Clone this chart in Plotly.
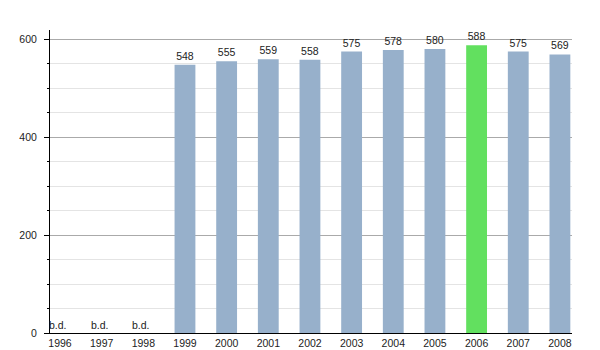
import plotly.graph_objects as go

# Population by year; None marks years without data ("b.d.")
years = ["1996", "1997", "1998", "1999", "2000", "2001", "2002",
         "2003", "2004", "2005", "2006", "2007", "2008"]
values = [None, None, None, 548, 555, 559, 558, 575, 578, 580, 588, 575, 569]
highlight_year = "2006"
y_ticks = [0, 200, 400, 600]

BAR = "#97b0cb"
HIGHLIGHT = "#62e05f"
FONT = dict(family="Liberation Sans, Arial, sans-serif", size=10.5, color="#222222")

idx = list(range(len(years)))
present = [i for i in idx if values[i] is not None]
missing = [i for i in idx if values[i] is None]

fig = go.Figure()
fig.add_trace(go.Bar(
    x=present,
    y=[values[i] for i in present],
    width=0.5,
    marker=dict(
        color=[HIGHLIGHT if years[i] == highlight_year else BAR for i in present],
        line=dict(width=0),
    ),
    text=[str(values[i]) for i in present],
    textposition="outside",
    textfont=FONT,
    cliponaxis=False,
    hoverinfo="skip",
))

for i in missing:
    fig.add_annotation(x=i, y=0, text="b.d.", showarrow=False,
                       yanchor="bottom", yshift=0, xshift=-2, font=FONT)

fig.update_layout(
    width=600, height=350,
    margin=dict(l=50, r=28, t=30, b=17, autoexpand=False),
    plot_bgcolor="white", paper_bgcolor="white",
    showlegend=False,
    bargap=0.5,
    font=FONT,
)
fig.update_xaxes(
    range=[-0.24, 12.29],
    tickmode="array", tickvals=idx, ticktext=years,
    showline=True, linecolor="black", linewidth=1,
    ticks="", showgrid=False, zeroline=False,
    tickfont=FONT, automargin=False,
)
fig.update_yaxes(
    range=[0, 619],
    tickmode="array", tickvals=y_ticks,
    showline=True, linecolor="black", linewidth=1,
    ticks="outside", ticklen=5, tickcolor="black",
    ticklabelstandoff=5,
    showgrid=True, gridcolor="#aaaaaa", gridwidth=1,
    zeroline=False,
    minor=dict(dtick=50, showgrid=True, gridcolor="#e4e4e4",
               ticks="outside", ticklen=2, tickcolor="black"),
    tickfont=FONT, automargin=False,
)

fig.write_html("out.html")
